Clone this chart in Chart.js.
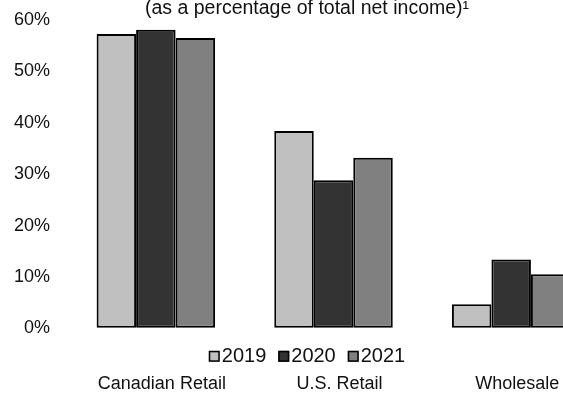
<!DOCTYPE html>
<html>
<head>
<meta charset="utf-8">
<script src="https://cdn.jsdelivr.net/npm/chart.js@4/dist/chart.umd.min.js"></script>
<style>
  html, body { margin: 0; padding: 0; background: #fff; overflow: hidden; }
  #wrap { width: 600px; height: 394px; }
</style>
</head>
<body>
<div id="wrap"><canvas id="chart-segments" width="600" height="394"></canvas></div>
<script>
const segmentLabels = ["Canadian Retail", "U.S. Retail", "Wholesale"];
const yearLabels = ["2019", "2020", "2021"];
const share2019 = [57.3, 38.4, 4.7];
const share2020 = [58.1, 28.8, 13.4];
const share2021 = [56.5, 33.2, 10.5];
const yearColors = ["#c0c0c0", "#333333", "#808080"];
const titleText = "(as a percentage of total net income)\u00b9";

const fontFamily = "'Liberation Sans', Arial, sans-serif";
Chart.defaults.font.family = fontFamily;
Chart.defaults.font.size = 18;
Chart.defaults.color = "#111111";

// Year key drawn in the gap between the bars and the segment names,
// with each swatch sitting right against its year.
const yearKey = {
  id: "yearKey",
  afterDraw(chart) {
    const { ctx, chartArea, titleBlock } = chart;
    const box = 11;
    const gap = 2;
    const spacing = 12;
    ctx.save();
    ctx.font = "20px " + fontFamily;
    ctx.textBaseline = "middle";
    ctx.textAlign = "left";
    const items = chart.data.datasets.map((ds) => ({
      text: ds.label,
      color: ds.backgroundColor,
      width: ctx.measureText(ds.label).width,
    }));
    const total =
      items.reduce((sum, it) => sum + box + gap + it.width, 0) +
      spacing * (items.length - 1);
    let x = (titleBlock.left + titleBlock.right) / 2 - total / 2;
    const y = chartArea.bottom + 28;
    items.forEach((it) => {
      ctx.fillStyle = it.color;
      ctx.fillRect(x, y - box / 2, box, box);
      ctx.lineWidth = 1.5;
      ctx.strokeStyle = "#000000";
      ctx.strokeRect(x + 0.75, y - box / 2 + 0.75, box - 1.5, box - 1.5);
      ctx.fillStyle = "#111111";
      ctx.fillText(it.text, x + box + gap, y);
      x += box + gap + it.width + spacing;
    });
    ctx.restore();
  },
};

const chartSegments = document.querySelector("#chart-segments").getContext("2d");

const dataSegments = {
  labels: segmentLabels,
  datasets: [share2019, share2020, share2021].map((values, i) => ({
    label: yearLabels[i],
    data: values,
    backgroundColor: yearColors[i],
  })),
};

const optionsSegments = {
  responsive: false,
  animation: false,
  layout: { padding: { left: 14, right: 0, top: 0, bottom: 0 } },
  datasets: {
    bar: { categoryPercentage: 0.667, barPercentage: 1 },
  },
  elements: {
    bar: { borderColor: "#000000", borderWidth: 2, borderSkipped: false },
  },
  scales: {
    x: {
      grid: { display: false, drawTicks: false },
      border: { display: false },
      // leave room for the year key above the segment names
      ticks: { padding: 46.5, labelOffset: 6, font: { lineHeight: 1.05 } },
      afterFit(scale) {
        scale.height = 65.7;
      },
    },
    y: {
      min: 0,
      max: 60,
      // invisible tick marks keep the labels clear of the bars
      grid: { drawOnChartArea: false, color: "transparent", tickLength: 17 },
      border: { display: false },
      ticks: { stepSize: 10, padding: 0, callback: (v) => v + "%" },
    },
  },
  plugins: {
    title: {
      display: true,
      text: titleText,
      padding: { top: 0, bottom: 3.5 },
      font: { size: 19.5, weight: "normal", lineHeight: 0.85 },
    },
    legend: { display: false },
    tooltip: { enabled: false },
  },
};

new Chart(chartSegments, {
  type: "bar",
  data: dataSegments,
  options: optionsSegments,
  plugins: [yearKey],
});
</script>
</body>
</html>
